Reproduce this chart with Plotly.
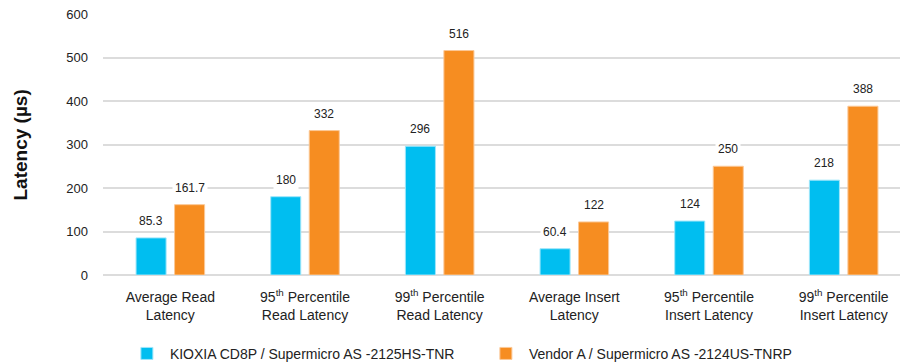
import plotly.graph_objects as go

categories = [
    "Average Read<br>Latency",
    "95<sup>th</sup> Percentile<br>Read Latency",
    "99<sup>th</sup> Percentile<br>Read Latency",
    "Average Insert<br>Latency",
    "95<sup>th</sup> Percentile<br>Insert Latency",
    "99<sup>th</sup> Percentile<br>Insert Latency",
]
kioxia = [85.3, 180, 296, 60.4, 124, 218]
vendor_a = [161.7, 332, 516, 122, 250, 388]
kioxia_labels = ["85.3", "180", "296", "60.4", "124", "218"]
vendor_labels = ["161.7", "332", "516", "122", "250", "388"]
series_names = ["KIOXIA CD8P / Supermicro AS -2125HS-TNR",
                "Vendor A / Supermicro AS -2124US-TNRP"]
y_ticks = [0, 100, 200, 300, 400, 500, 600]
y_title = "Latency (µs)"

BLUE = "#00BEF0"
ORANGE = "#F68D21"
FONT = "Liberation Sans, Arial, sans-serif"

fig = go.Figure()
fig.add_trace(go.Bar(x=categories, y=kioxia, name=series_names[0],
                     marker=dict(color=BLUE, line=dict(color="#9ee6fa", width=1))))
fig.add_trace(go.Bar(x=categories, y=vendor_a, name=series_names[1],
                     marker=dict(color=ORANGE, line=dict(color="#fbc896", width=1))))

for vals, labs, shift in [(kioxia, kioxia_labels, -19.25), (vendor_a, vendor_labels, 19.25)]:
    for c, v, t in zip(categories, vals, labs):
        fig.add_annotation(x=c, y=v, text=t, showarrow=False, xshift=shift, yshift=17,
                           bgcolor="white", borderpad=2,
                           font=dict(family=FONT, size=12, color="#222222"))

# y-axis title
fig.add_annotation(text="<b>" + y_title + "</b>", xref="paper", yref="paper",
                   x=-0.1015, y=0.5, xanchor="center", yanchor="middle",
                   textangle=-90, showarrow=False,
                   font=dict(family=FONT, size=19, color="#111111"))

fig.update_layout(
    width=911, height=364,
    margin=dict(l=103, r=0, t=14, b=89, autoexpand=False),
    plot_bgcolor="white", paper_bgcolor="white",
    barmode="group", bargap=0.428, bargroupgap=0.22,
    font=dict(family=FONT, color="#222222"),
    legend=dict(orientation="h", xref="container", x=0.136, xanchor="left",
                yref="paper", y=-0.302, yanchor="middle",
                itemwidth=36, entrywidth=308, entrywidthmode="pixels",
                font=dict(family=FONT, size=14, color="#222222")),
    showlegend=True,
)
fig.update_yaxes(range=[0, 600], tickvals=y_ticks, showgrid=True, gridcolor="#dcdcdc",
                 gridwidth=1.5, zeroline=True, zerolinecolor="#dcdcdc", zerolinewidth=1.5,
                 ticks="", ticklabelstandoff=14, automargin=False,
                 tickfont=dict(family=FONT, size=13, color="#222222"))
fig.update_xaxes(showgrid=False, showline=False, ticks="", automargin=False,
                 ticklabelstandoff=12,
                 tickfont=dict(family=FONT, size=14, color="#222222"))

fig.write_html("out.html", config={"displayModeBar": False},
               post_script="document.body.style.margin='0';document.body.style.overflow='hidden';")
